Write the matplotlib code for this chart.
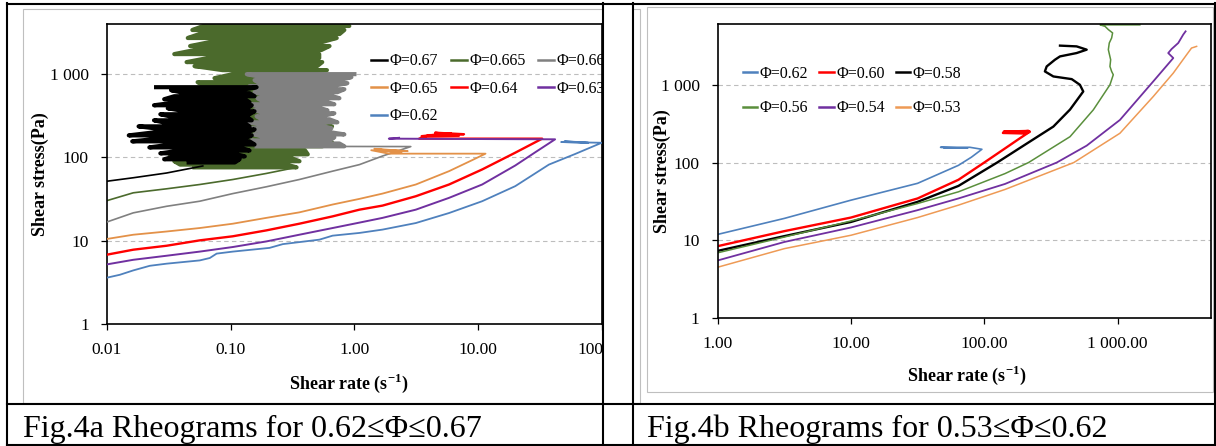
import matplotlib
matplotlib.use("Agg")
import matplotlib.pyplot as plt
from matplotlib.patches import Rectangle
from matplotlib.lines import Line2D
from matplotlib.ticker import NullLocator

plt.rcParams["font.family"] = ["Liberation Serif", "DejaVu Serif"]
plt.rcParams["mathtext.fontset"] = "custom"
plt.rcParams["mathtext.rm"] = "Liberation Serif"
plt.rcParams["mathtext.bf"] = "Liberation Serif:bold"

# ---------------- Fig.4a : 0.62 <= phi <= 0.67 ----------------
labels_a = ["Φ=0.67", "Φ=0.665", "Φ=0.66", "Φ=0.65", "Φ=0.64", "Φ=0.63", "Φ=0.62"]
colors_a = ["#000000", "#4B6A2C", "#808080", "#E39148", "#FF0000", "#7030A0", "#4F81BD"]

# smooth flow curves (shear rate 1/s, shear stress Pa)
rate_067 = [0.01, 0.0163, 0.0303, 0.0595]
stress_067 = [51.8, 57, 65, 79]
rate_0665 = [0.01, 0.0163, 0.0303, 0.0562, 0.104, 0.194, 0.341]
stress_0665 = [30.3, 37.6, 42, 47.3, 54.3, 64.2, 76]
rate_066 = [0.01, 0.0163, 0.0303, 0.0562, 0.104, 0.194, 0.359, 0.667, 1.1, 1.69, 2.86, 0.16]
stress_066 = [16.8, 21.6, 25.9, 29.8, 36.8, 44.4, 54.3, 68.4, 82, 104, 135, 136]
rate_065 = [0.01, 0.0163, 0.0303, 0.0562, 0.104, 0.194, 0.359, 0.667, 1.1, 1.69, 3.14,
            5.83, 9.0, 11.5, 1.9, 1.37, 2.3, 1.45, 2.7, 1.6, 2.4]
stress_065 = [10.5, 11.8, 12.9, 14.2, 16.0, 18.8, 21.9, 27.2, 31.8, 36.8, 47.3,
              68.4, 93, 111, 111, 122, 116, 127, 119, 124, 113]
rate_064 = [0.01, 0.0163, 0.0303, 0.0562, 0.104, 0.194, 0.359, 0.667, 1.1, 1.69, 3.14,
            5.83, 10.8, 20, 33, 3.34, 4.0, 7.7, 4.5, 7.0, 3.5, 6.0]
stress_064 = [6.8, 7.8, 8.7, 10.1, 11.3, 13.3, 16.0, 19.6, 23.6, 26.4, 34.2,
              47.3, 71.7, 114, 168, 168, 185, 190, 198, 182, 180, 195]
rate_063 = [0.01, 0.0163, 0.0303, 0.0562, 0.104, 0.194, 0.359, 0.667, 1.1, 1.69, 3.14,
            5.83, 10.8, 20, 29.2, 42, 1.9, 2.3]
stress_063 = [5.2, 5.9, 6.6, 7.4, 8.4, 9.8, 11.8, 14.2, 16.5, 18.8, 23.6,
              32.7, 47.3, 80, 116, 165, 168, 172]
rate_062a = [0.01, 0.0127, 0.0163, 0.0222, 0.0303, 0.0562, 0.0678, 0.077, 0.104, 0.206,
             0.264, 0.522, 0.667, 1.1, 1.69, 3.14, 5.83, 10.8, 20, 37.4, 61, 100,
             47, 78, 50, 72]
stress_062a = [3.6, 3.9, 4.4, 5.0, 5.3, 5.8, 6.2, 7.0, 7.4, 8.2,
               9.1, 10.3, 11.5, 12.4, 13.6, 16.3, 21.5, 29.8, 45.2, 82, 110, 150,
               153, 150, 156, 152]

# noisy jammed regions: stress level with left / right shear-rate extent
cloud_067_stress = [87, 95, 103, 112, 121, 132, 143, 156, 169, 184, 200, 217, 236,
                    257, 279, 303, 330, 358, 389, 423, 460, 500, 543, 590, 641, 697]
cloud_067_lo = [0.044, 0.029, 0.035, 0.027, 0.039, 0.022, 0.033, 0.016, 0.027, 0.015,
                0.024, 0.029, 0.018, 0.031, 0.024, 0.035, 0.027, 0.043, 0.031, 0.024,
                0.037, 0.029, 0.035, 0.043, 0.033, 0.024]
cloud_067_hi = [0.108, 0.118, 0.130, 0.104, 0.142, 0.118, 0.156, 0.142, 0.130, 0.148,
                0.137, 0.156, 0.142, 0.130, 0.148, 0.137, 0.142, 0.156, 0.137, 0.148,
                0.142, 0.130, 0.156, 0.142, 0.118, 0.162]

cloud_0665_stress = [76, 82, 90, 100, 109, 121, 136, 152, 169, 189, 212, 236, 264, 295,
                     330, 368, 412, 460, 514, 574, 641, 717, 801, 895, 1000, 1117, 1248,
                     1395, 1559, 1741, 1946, 2175, 2431, 2716, 3034, 3388, 3787, 4000, 4500]
cloud_0665_lo = [0.049, 0.039, 0.035, 0.043, 0.032, 0.047, 0.056, 0.068, 0.062, 0.074,
                 0.068, 0.082, 0.074, 0.082, 0.070, 0.090, 0.079, 0.090, 0.074, 0.085,
                 0.068, 0.062, 0.054, 0.074, 0.104, 0.086, 0.051, 0.044, 0.065, 0.035,
                 0.051, 0.047, 0.068, 0.045, 0.056, 0.049, 0.060, 0.068, 0.070]
cloud_0665_hi = [0.341, 0.283, 0.36, 0.30, 0.42, 0.40, 0.55, 0.66, 0.45, 0.60,
                 0.36, 0.66, 0.45, 0.55, 0.36, 0.52, 0.40, 0.48, 0.36, 0.43,
                 0.19, 0.18, 0.17, 0.16, 0.18, 0.60, 0.50, 0.55, 0.52, 0.52,
                 0.54, 0.63, 0.55, 0.72, 0.76, 0.83, 0.91, 0.76, 0.80]

cloud_066_stress = [136, 147, 160, 174, 189, 206, 224, 243, 264, 287, 312, 339, 368,
                    400, 435, 473, 514, 558, 607, 659, 717, 779, 847, 920, 1000]
cloud_066_lo = [0.156, 0.171, 0.148, 0.188, 0.156, 0.181, 0.142, 0.188, 0.137, 0.178,
                0.162, 0.188, 0.156, 0.178, 0.142, 0.181, 0.165, 0.188, 0.156, 0.178,
                0.142, 0.171, 0.156, 0.178, 0.135]
cloud_066_hi = [0.83, 0.757, 0.628, 0.689, 0.83, 0.573, 0.652, 0.522, 0.729, 0.628,
                0.542, 0.689, 0.606, 0.505, 0.689, 0.573, 0.757, 0.628, 0.729, 0.83,
                0.652, 0.878, 0.757, 0.946, 1.04]

# ---------------- Fig.4b : 0.53 <= phi <= 0.62 ----------------
labels_b = ["Φ=0.62", "Φ=0.60", "Φ=0.58", "Φ=0.56", "Φ=0.54", "Φ=0.53"]
colors_b = ["#4F81BD", "#FF0000", "#000000", "#5A8F3C", "#7030A0", "#EE9A55"]

rate_062b = [1, 3.16, 10, 31.6, 64, 80, 96, 78, 47, 75, 50]
stress_062b = [11.9, 19.1, 32.8, 54, 92, 117, 148, 157, 157, 153, 154]
rate_060 = [1, 3.16, 10, 31.6, 64, 100, 140, 185, 220, 205, 138, 215, 140, 210]
stress_060 = [8.4, 13.1, 19.6, 34.5, 60, 100, 148, 205, 250, 236, 240, 255, 250, 244]
rate_058 = [1, 3.16, 10, 31.6, 64, 125, 208, 330, 440, 553, 522, 453, 330, 285, 294,
            339, 370, 493, 587, 493, 370]
stress_058 = [7.3, 11.3, 17.2, 31.2, 50, 100, 175, 290, 480, 820, 1000, 1183, 1280,
              1486, 1722, 2100, 2318, 2560, 2830, 3120, 3190]
rate_056 = [1, 3.16, 10, 31.6, 64, 143, 215, 440, 658, 877, 929, 903, 877, 888, 853,
            867, 903, 918, 853, 805, 740, 1470]
stress_056 = [6.9, 11.0, 17.7, 29.7, 42, 72, 100, 215, 476, 1000, 1346, 1486, 1722,
              2100, 2830, 3450, 4000, 4650, 5130, 5650, 5900, 5900]
rate_054 = [1, 3.16, 10, 31.6, 64, 143, 350, 587, 1042, 1853, 2620, 2400, 2545, 2855,
            3110, 3240]
stress_054 = [5.5, 9.5, 14.6, 24.4, 34.5, 53, 100, 165, 353, 1105, 2210, 2560, 2885,
              3450, 4420, 4870]
rate_053 = [1, 3.16, 10, 31.6, 64, 143, 470, 1042, 1853, 2620, 3300, 3590, 3920]
stress_053 = [4.5, 7.8, 11.6, 19.6, 28.3, 45, 100, 238, 706, 1415, 2440, 2970, 3120]

W, H = 1216, 446


def fx(px):
    return px / W


def fy(py):
    return 1 - py / H


def zigzag(stress, lo, hi):
    # strokes back and forth across the noisy band
    xs, ys = [], []
    for i, (s, a, b) in enumerate(zip(stress, lo, hi)):
        pair = [a, b] if i % 2 == 0 else [b, a]
        xs += pair
        ys += [s, s]
    return xs, ys


def style_axes(ax, xlim, ylim, xticks, xticklabels):
    ax.set_xscale("log")
    ax.set_yscale("log")
    ax.set_xlim(*xlim)
    ax.set_ylim(*ylim)
    ax.set_xticks(xticks)
    ax.set_xticklabels(xticklabels)
    ax.set_yticks([1, 10, 100, 1000])
    ax.set_yticklabels(["1", "10", "100", "1 000"])
    ax.xaxis.set_minor_locator(NullLocator())
    ax.yaxis.set_minor_locator(NullLocator())
    ax.tick_params(direction="out", length=4, width=0.9, labelsize=12.5, pad=9,
                   colors="black")
    ax.yaxis.grid(True, color="#BDBDBD", lw=0.8, ls=(0, (4, 3)))
    ax.set_axisbelow(True)
    for sp in ax.spines.values():
        sp.set_color("black")
        sp.set_linewidth(1.2)


fig = plt.figure(figsize=(W / 100, H / 100), dpi=100)

# ---- left chart ----
axA = fig.add_axes([fx(107), fy(324), (601.7 - 107) / W, (324 - 24) / H])
style_axes(axA, (0.01, 100), (1, 4000), [0.01, 0.1, 1, 10, 100],
           ["0.01", "0.10", "1.00", "10.00", "100.00"])

cloud_lw = 3.0
x, y = zigzag(cloud_0665_stress, cloud_0665_lo, cloud_0665_hi)
axA.plot(x, y, color=colors_a[1], lw=cloud_lw, solid_capstyle="butt", zorder=2)
axA.plot(rate_0665, stress_0665, color=colors_a[1], lw=1.2, zorder=2)
x, y = zigzag(cloud_066_stress, cloud_066_lo, cloud_066_hi)
axA.plot(x, y, color=colors_a[2], lw=cloud_lw, solid_capstyle="butt", zorder=3)
axA.plot(rate_066, stress_066, color=colors_a[2], lw=1.2, zorder=3)
x, y = zigzag(cloud_067_stress, cloud_067_lo, cloud_067_hi)
axA.plot(x, y, color=colors_a[0], lw=cloud_lw, solid_capstyle="butt", zorder=4)
axA.plot(rate_067, stress_067, color=colors_a[0], lw=1.2, zorder=4)

axA.plot(rate_065, stress_065, color=colors_a[3], lw=1.3, zorder=5)
axA.plot(rate_064, stress_064, color=colors_a[4], lw=1.7, zorder=5)
axA.plot(rate_063, stress_063, color=colors_a[5], lw=1.4, zorder=6)
axA.plot(rate_062a, stress_062a, color=colors_a[6], lw=1.3, zorder=6)

handles_a = [Line2D([], [], color=c, lw=1.8) for c in colors_a]
order_a = [0, 3, 6, 1, 4, 2, 5]
axA.legend([handles_a[i] for i in order_a], [labels_a[i] for i in order_a],
           ncol=3, loc="upper left", bbox_to_anchor=(0.534, 0.902), frameon=False,
           fontsize=11.5, handlelength=1.0, handletextpad=0.15, columnspacing=0.8,
           labelspacing=0.72, borderpad=0, borderaxespad=0)

axA.set_ylabel("Shear stress(Pa)", fontsize=13, fontweight="bold")
axA.yaxis.set_label_coords(-0.118, 0.5)
axA.set_xlabel("Shear rate (s$^{\\mathbf{-1}}$)", fontsize=13, fontweight="bold")
axA.xaxis.set_label_coords(0.489, -0.16)

# ---- right chart ----
axB = fig.add_axes([fx(717.7), fy(318), (1210.7 - 717.7) / W, (318 - 24.3) / H])
style_axes(axB, (1, 5000), (1, 6000), [1, 10, 100, 1000],
           ["1.00", "10.00", "100.00", "1 000.00"])

series_b = [(rate_062b, stress_062b, 1.2), (rate_060, stress_060, 1.7),
            (rate_058, stress_058, 1.7), (rate_056, stress_056, 1.1),
            (rate_054, stress_054, 1.3), (rate_053, stress_053, 1.1)]
for (r, s, lw), c in zip(series_b, colors_b):
    axB.plot(r, s, color=c, lw=lw)

handles_b = [Line2D([], [], color=c, lw=1.8) for c in colors_b]
order_b = [0, 3, 1, 4, 2, 5]
axB.legend([handles_b[i] for i in order_b], [labels_b[i] for i in order_b],
           ncol=3, loc="upper left", bbox_to_anchor=(0.051, 0.858), frameon=False,
           fontsize=11.5, handlelength=0.9, handletextpad=0.15, columnspacing=0.7,
           labelspacing=1.15, borderpad=0, borderaxespad=0)

axB.set_ylabel("Shear stress(Pa)", fontsize=13, fontweight="bold")
axB.yaxis.set_label_coords(-0.094, 0.5)
axB.set_xlabel("Shear rate (s$^{\\mathbf{-1}}$)", fontsize=13, fontweight="bold")
axB.xaxis.set_label_coords(0.505, -0.155)

# ---- chart-area frames, table grid and captions ----
fig.add_artist(Rectangle((fx(23), fy(403)), (640 - 23) / W, (403 - 9) / H,
                         transform=fig.transFigure, fill=False, edgecolor="#BFBFBF",
                         lw=0.8, zorder=1))
fig.add_artist(Rectangle((fx(647), fy(392)), (1213 - 647) / W, (392 - 7) / H,
                         transform=fig.transFigure, fill=False, edgecolor="#BFBFBF",
                         lw=0.8, zorder=1))
fig.add_artist(Rectangle((fx(604), 0), (632 - 604) / W, 1, transform=fig.transFigure,
                         facecolor="white", edgecolor="none", zorder=5))

table_lw = 1.5
for xp in [7, 603, 633, 1214.5]:
    fig.add_artist(Line2D([fx(xp), fx(xp)], [fy(3), fy(446)], transform=fig.transFigure,
                          color="black", lw=table_lw, zorder=6))
for yp in [3.5, 404, 445]:
    fig.add_artist(Line2D([fx(7), fx(1214.5)], [fy(yp), fy(yp)], transform=fig.transFigure,
                          color="black", lw=table_lw, zorder=6))

fig.text(fx(23), fy(437), "Fig.4a Rheograms for 0.62≤Φ≤0.67", fontsize=23,
         ha="left", va="baseline")
fig.text(fx(647), fy(437), "Fig.4b Rheograms for 0.53≤Φ≤0.62", fontsize=23,
         ha="left", va="baseline")

fig.savefig("out.png", dpi=100, facecolor="white")
